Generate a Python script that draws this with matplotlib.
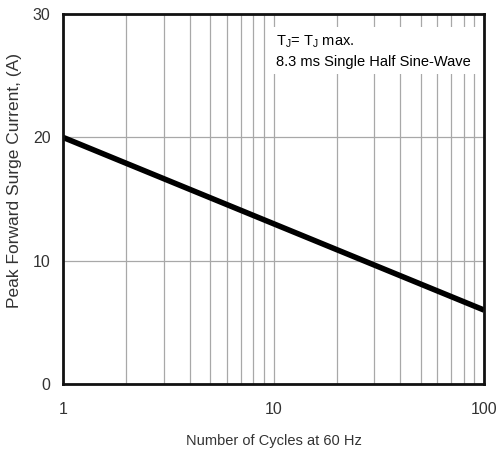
import matplotlib
matplotlib.use('Agg')
import matplotlib.pyplot as plt
import numpy as np

plt.rcParams['font.family'] = ['Liberation Sans', 'DejaVu Sans']
plt.rcParams['mathtext.fontset'] = 'custom'
plt.rcParams['mathtext.rm'] = 'Liberation Sans'

# data
cycles = [1, 10, 100]
surge = [20, 13, 6]
xticks = [1, 10, 100]
yticks = [0, 10, 20, 30]

fig = plt.figure(figsize=(4.97, 4.54), dpi=100)
ax = fig.add_axes([0.127, 0.154, 0.847, 0.815])

ax.set_xscale('log')
ax.set_xlim(1, 100)
ax.set_ylim(0, 30)
ax.set_xticks(xticks)
ax.set_xticklabels([str(t) for t in xticks])
ax.set_yticks(yticks)
ax.tick_params(axis='both', which='both', length=0, labelsize=11.5, colors='#333333')
ax.tick_params(axis='x', pad=13)
ax.tick_params(axis='y', pad=9)
ax.xaxis.set_minor_formatter(matplotlib.ticker.NullFormatter())

ax.grid(True, which='both', axis='x', color='#a8a8a8', lw=0.9)
ax.grid(True, which='major', axis='y', color='#a8a8a8', lw=0.9)

for s in ax.spines.values():
    s.set_linewidth(2)
    s.set_color('#111111')

ax.plot(cycles, surge, color='black', lw=4, solid_capstyle='butt')

ax.text(0.505, 0.948, 'T$_\\mathrm{J}$= T$_\\mathrm{J}$ max.\n8.3 ms Single Half Sine-Wave',
        transform=ax.transAxes, fontsize=10.5, va='top', ha='left', linespacing=1.45,
        bbox=dict(facecolor='white', edgecolor='none', boxstyle='square,pad=0.35'))

ax.set_xlabel('Number of Cycles at 60 Hz', fontsize=10.5, color='#333333', labelpad=12)
ax.set_ylabel('Peak Forward Surge Current, (A)', fontsize=12.5, color='#333333')
ax.yaxis.set_label_coords(-0.098, 0.551)

fig.savefig('out.png', dpi=100)
